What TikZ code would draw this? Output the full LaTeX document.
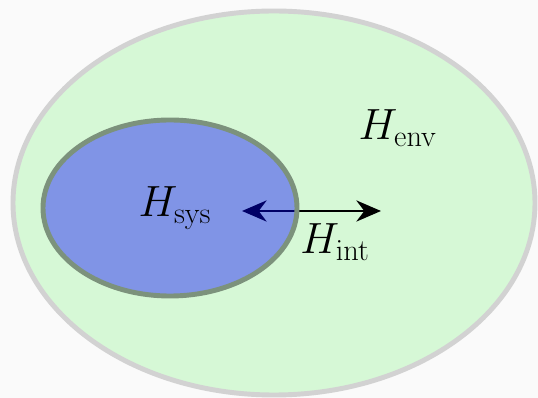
\documentclass[tikz,border=0pt]{standalone}
\usepackage{amsmath,amssymb}
\usetikzlibrary{arrows.meta}
\definecolor{envfill}{RGB}{214,248,214}
\definecolor{envline}{RGB}{210,210,210}
\definecolor{sysline}{RGB}{124,146,124}
\definecolor{pagebg}{RGB}{250,250,250}

\begin{document}
\begin{tikzpicture}[x=0.02cm, y=-0.02cm, font=\fontsize{23}{27}\selectfont]
	\fill[pagebg] (0,0) rectangle (538,398);
	\coordinate (E) at (274,203);
	\coordinate (S) at (170,208);
	\coordinate (A) at (242,211);
	\coordinate (B) at (381,211);
	\draw[envline, fill=envfill, line width=2.8pt] (E) ellipse [x radius=261, y radius=192];
	\draw[line width=1.7pt, {Stealth[length=14pt,width=12pt,inset=4.5pt]}-{Stealth[length=14pt,width=12pt,inset=4.5pt]}] (A)--(B);
	\fill[blue, fill opacity=0.4] (S) ellipse [x radius=127, y radius=88];
	\draw[sysline, line width=2.8pt] (S) ellipse [x radius=127, y radius=88];
	\node (sys) at (175,208) {$H_{\mathrm{sys}}$};
	\node (env) at (398,128) {$H_{\mathrm{env}}$};
	\node (int) at (335,242) {$H_{\mathrm{int}}$};
\end{tikzpicture}
\end{document}
